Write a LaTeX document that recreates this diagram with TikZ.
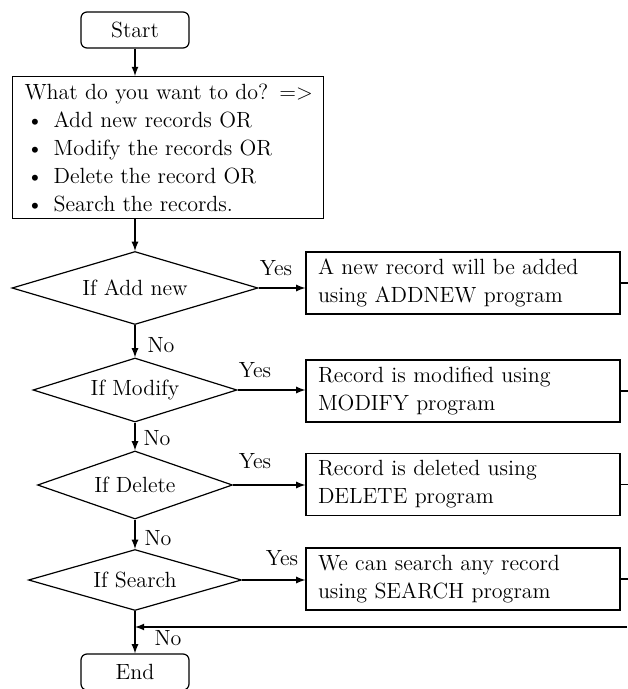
\documentclass[tikz,border=0pt]{standalone}
\usepackage{tikz}
\usetikzlibrary{shapes,arrows}

\begin{document}
\begin{tikzpicture}[x=0.5pt, y=-0.5pt, line width=0.6pt, >=latex,
  font=\fontsize{11}{14}\selectfont,
  terminal/.style={draw, rectangle, rounded corners=3pt, minimum width=54pt, minimum height=18pt, inner sep=0pt},
  decision/.style={draw, diamond, inner sep=0pt},
  action/.style={draw, rectangle, minimum width=157pt, minimum height=31pt, text width=145pt, align=left, inner xsep=6pt, inner ysep=2pt}]
\useasboundingbox (0,0) rectangle (627,689);

\node [terminal] (start) at (135,30) {Start};
\node [draw, rectangle, anchor=north west, minimum width=155.5pt, minimum height=71pt,
  inner xsep=6pt, inner ysep=1pt, text width=143.5pt, align=left] (ask) at (12,76)
  {\mbox{What do you want to do? =>}\\
   \makebox[14.5pt][l]{\hspace{1pt}\textbullet}Add new records OR\\
   \makebox[14.5pt][l]{\hspace{1pt}\textbullet}Modify the records OR\\
   \makebox[14.5pt][l]{\hspace{1pt}\textbullet}Delete the record OR\\
   \makebox[14.5pt][l]{\hspace{1pt}\textbullet}Search the records.};

\node [decision, aspect=3.37, minimum width=123pt, minimum height=36.5pt] (d1) at (135,288) {If Add new};
\node [decision, aspect=3.19, minimum width=102pt, minimum height=32pt] (d2) at (135,390) {If Modify};
\node [decision, aspect=2.87, minimum width=97.5pt, minimum height=34pt] (d3) at (135,485) {If Delete};
\node [decision, aspect=3.49, minimum width=106.5pt, minimum height=30.5pt] (d4) at (135,580) {If Search};

\node [action] (b1) at (463,283) {A new record will be added\\ using ADDNEW program};
\node [action] (b2) at (463,391) {Record is modified using\\ MODIFY program};
\node [action] (b3) at (463,484.5) {Record is deleted using\\ DELETE program};
\node [action] (b4) at (463,579) {We can search any record\\ using SEARCH program};

\node [terminal] (stop) at (135,672) {End};
\coordinate (back) at (627,627);

\draw [->] (start) -- (start |- ask.north);
\draw [->] (ask.south -| d1.north) -- (d1);
\draw [->] (d1) -- (d2);
\draw [->] (d2) -- (d3);
\draw [->] (d3) -- (d4);
\draw [->] (d4) -- (stop);
\foreach \d/\b in {d1/b1,d2/b2,d3/b3,d4/b4}
  \draw [->] (\d.east) -- (\d.east -| \b.west);
\foreach \b in {b1,b2,b3,b4}
  \draw (\b.east) -- ++(7,0);
\draw [->] (back) -- (back -| d4.south);

\node at (276,268) {Yes};
\node at (255,370) {Yes};
\node at (255,461) {Yes};
\node at (282,558) {Yes};
\node at (161,345) {No};
\node at (157,438) {No};
\node at (158,538) {No};
\node at (168,638) {No};

\end{tikzpicture}
\end{document}
